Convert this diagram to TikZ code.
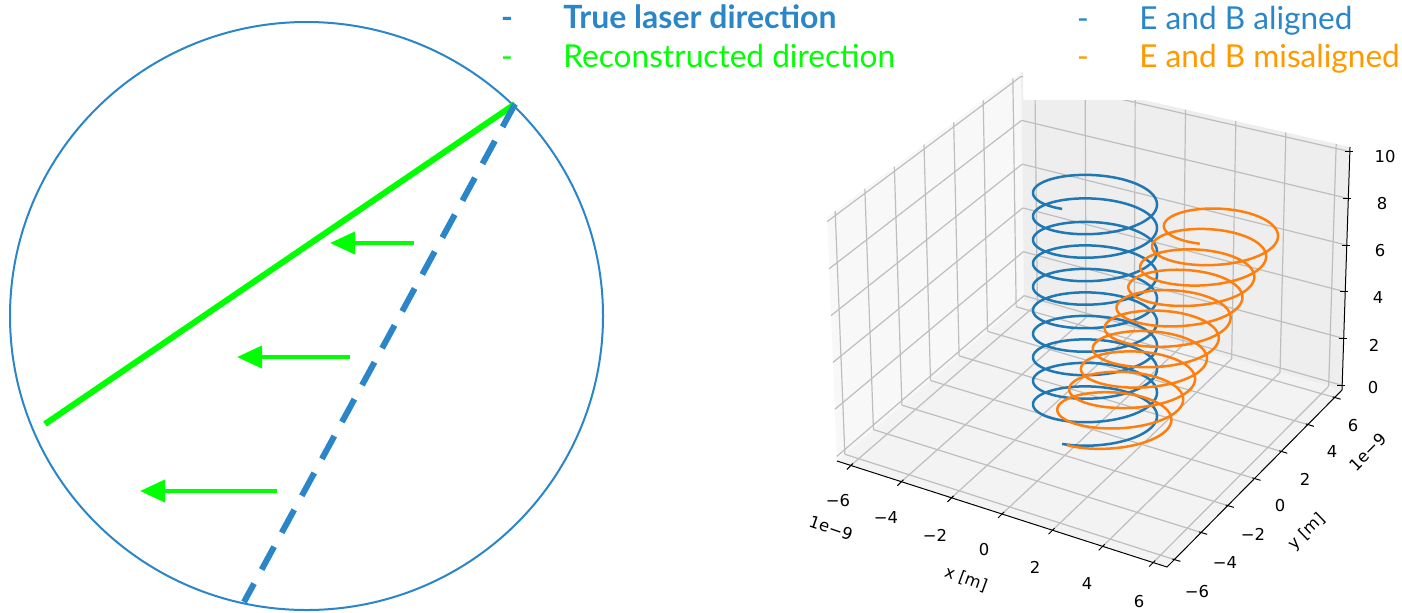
\documentclass[tikz,border=0pt]{standalone}
\usepackage{fontspec}
\setmainfont{Lato}
\newfontfamily\plotfont{DejaVu Sans}
\usepackage{xcolor}
\usepackage{tikz}
\usetikzlibrary{arrows.meta,calc}

\definecolor{laserblue}{RGB}{42,134,200}
\definecolor{recogreen}{RGB}{0,255,0}
\definecolor{legorange}{RGB}{255,153,0}
\definecolor{mplblue}{RGB}{31,119,180}
\definecolor{mplorange}{RGB}{255,127,14}
\definecolor{paneleft}{RGB}{248,248,248}
\definecolor{paneright}{RGB}{238,238,238}
\definecolor{panefloor}{RGB}{243,243,243}
\definecolor{gridgray}{RGB}{190,190,190}

\begin{document}
\begin{tikzpicture}[
  x=0.5pt,
  y=-0.5pt,
  every node/.style={inner sep=0pt},
  legtext/.style={font=\fontsize{15.8}{18}\selectfont, anchor=base west},
  legbold/.style={font=\fontsize{16}{18}\selectfont\bfseries, anchor=base west},
  legdash/.style={font=\fontsize{15.8}{18}\selectfont, anchor=base},
  ticklab/.style={font=\plotfont\fontsize{8.2}{9}\selectfont},
  gridline/.style={draw=gridgray, line width=0.6pt},
  axisline/.style={draw=black, line width=0.5pt},
  shiftarrow/.style={-{Triangle[length=12.5pt, width=11pt]}, draw=recogreen, line width=2pt},
]

\useasboundingbox (0,0) rectangle (1402,612);

% Beam spot.
\coordinate (centre) at (306.5,316);
\draw[laserblue, line width=1pt] (centre) ellipse [x radius=296.5, y radius=294];

% Directions.
\coordinate (apex) at (515,104);
\coordinate (recoend) at (45,424);
\coordinate (trueend) at (244,602);
\draw[recogreen, line width=3pt] (recoend) -- (apex);
\draw[laserblue, line width=3pt, dash pattern=on 13pt off 8pt] (apex) -- (trueend);

% Shift arrows.
\foreach \n/\xa/\xb/\yy in {1/414/330/243, 2/350/237/357, 3/277/140/491} {
  \coordinate (tail\n) at (\xa,\yy);
  \coordinate (tip\n) at (\xb,\yy);
  \draw[shiftarrow] (tail\n) -- (tip\n);
}

% Legend, left.
\node[legdash, font=\fontsize{15.8}{18}\selectfont\bfseries, text=laserblue] (dashtrue) at (507,28) {-};
\node[legbold, text=laserblue] (truedir) at (563,28) {True laser direction};
\node[legdash, text=recogreen] (dashreco) at (507,67) {-};
\node[legtext, text=recogreen] (recodir) at (563,67) {Reconstructed direction};

% Box corners (floor and top).
\coordinate (A) at (837,461);
\coordinate (B) at (1167,567);
\coordinate (C) at (1342,390);
\coordinate (D) at (1024,300);
\coordinate (At) at (827,217);
\coordinate (Ct) at (1350,147);
\coordinate (Dt) at (1021,72);

% Panes and grid.
\begin{scope}
  \clip (0,100) rectangle (1402,612) (0,0) rectangle (1023,100);
  \fill[paneleft] (A) -- (D) -- (Dt) -- (At) -- cycle;
  \fill[paneright] (D) -- (C) -- (Ct) -- (Dt) -- cycle;
  \fill[panefloor] (A) -- (B) -- (C) -- (D) -- cycle;
  \foreach \pos in {0.042,0.195,0.347,0.5,0.653,0.805,0.958} {
    \draw[gridline] ($(A)!\pos!(D)$) -- ($(At)!\pos!(Dt)$);
    \draw[gridline] ($(D)!\pos!(C)$) -- ($(Dt)!\pos!(Ct)$);
    \draw[gridline] ($(A)!\pos!(B)$) -- ($(D)!\pos!(C)$);
    \draw[gridline] ($(A)!\pos!(D)$) -- ($(B)!\pos!(C)$);
  }
  \foreach \lev in {0.019,0.212,0.404,0.596,0.788,0.981} {
    \draw[gridline] ($(A)!\lev!(At)$) -- ($(D)!\lev!(Dt)$);
    \draw[gridline] ($(D)!\lev!(Dt)$) -- ($(C)!\lev!(Ct)$);
  }
\end{scope}

% Axes.
\draw[axisline] (A) -- (B) -- (C);
\draw[axisline] (C) -- (Ct);
\foreach \pos in {0.042,0.195,0.347,0.5,0.653,0.805,0.958} {
  \coordinate (xt) at ($(A)!\pos!(B)$);
  \draw[axisline] ($(xt)+(2,-2)$) -- ($(xt)+(-4,4)$);
  \coordinate (yt) at ($(B)!\pos!(C)$);
  \draw[axisline] ($(yt)+(-2,-0.6)$) -- ($(yt)+(6,1.8)$);
}
\foreach \lev in {0.019,0.212,0.404,0.596,0.788,0.981} {
  \coordinate (zt) at ($(C)!\lev!(Ct)$);
  \draw[axisline] ($(zt)+(-5,0)$) -- ($(zt)+(3,0)$);
}

% Tick labels.
\foreach \px/\py/\lab [count=\i] in {838/501/−6, 886/518/−4, 935/535/−2, 984/550/0, 1035/567/2, 1087/584/4, 1139/602/6}
  \node[ticklab] (xlab\i) at (\px,\py) {\lab};
\foreach \px/\py/\lab [count=\i] in {1197/592/−6, 1225/563/−4, 1253/534/−2, 1280/506/0, 1305/479/2, 1332/452/4, 1353/426/6}
  \node[ticklab] (ylab\i) at (\px,\py) {\lab};
\foreach \px/\py/\lab [count=\i] in {1373/388/0, 1374/345/2, 1378/298/4, 1380/251/6, 1382/204/8, 1385/157/10}
  \node[ticklab] (zlab\i) at (\px,\py) {\lab};
\node[ticklab, rotate=-19] (xoff) at (831,528) {1e−9};
\node[ticklab, rotate=-20] (xname) at (966,579) {x [m]};
\node[ticklab, rotate=45] (yoff) at (1368,452) {1e−9};
\node[ticklab, rotate=44] (yname) at (1307,532) {y [m]};

% Orbits.
\draw[mplblue, line width=1.25pt] plot[domain=-3362:238, samples=1441]
  ({1095+62*cos(\x)}, {424-235*((\x+3362)/3600)-23.5*sin(\x)});
\draw[mplorange, line width=1.25pt] plot[domain=228:3844, samples=1441]
  ({1107+119*((\x-228)/3616)+60*cos(\x)}, {428-205*((\x-228)/3616)-23*sin(\x)});

% Legend, right.
\node[legdash, text=laserblue] (dashal) at (1083,29) {-};
\node[legtext, text=laserblue] (aligned) at (1139,29) {E and B aligned};
\node[legdash, text=legorange] (dashmis) at (1083,67) {-};
\node[legtext, text=legorange] (misaligned) at (1139,67) {E and B misaligned};

\end{tikzpicture}
\end{document}
